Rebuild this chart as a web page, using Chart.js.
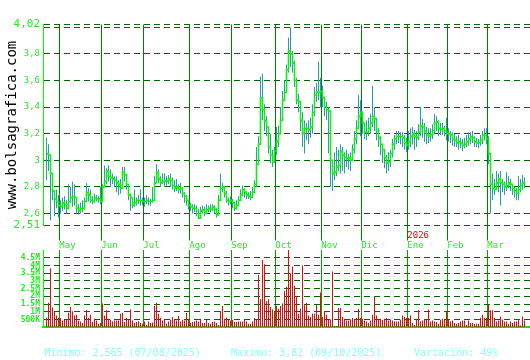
<!DOCTYPE html>
<html><head><meta charset="utf-8">
<script src="https://cdn.jsdelivr.net/npm/chart.js@4"></script>
<style>
html,body{margin:0;padding:0;background:#fff;width:530px;height:360px;overflow:hidden;}
#c1{position:absolute;left:0;top:0;}
#c2{position:absolute;left:0;top:240px;}
.ft{position:absolute;top:347px;font:10px "DejaVu Sans Mono",monospace;line-height:12px;color:#88ffff;white-space:pre;}
</style></head><body>
<canvas id="c1" width="530" height="250"></canvas>
<canvas id="c2" width="530" height="95"></canvas>
<div id="f0" class="ft" style="left:44px"></div>
<div id="f1" class="ft" style="left:231px"></div>
<div id="f2" class="ft" style="left:414px"></div>
<script>
// ---- data ----
const closes = [3.05,3.04,2.90,2.77,2.71,2.69,2.66,2.65,2.68,2.67,2.64,2.69,2.72,2.73,2.72,2.64,2.62,2.64,2.64,2.69,
2.76,2.74,2.70,2.69,2.72,2.71,2.71,2.69,2.80,2.84,2.92,2.88,2.87,2.86,2.85,2.83,2.82,2.79,2.91,2.89,
2.82,2.74,2.72,2.66,2.68,2.70,2.70,2.70,2.69,2.69,2.70,2.69,2.69,2.70,2.83,2.91,2.86,2.83,2.84,2.85,
2.84,2.86,2.85,2.81,2.79,2.80,2.78,2.79,2.75,2.73,2.70,2.66,2.65,2.64,2.64,2.60,2.565,2.62,2.63,2.60,
2.63,2.64,2.63,2.65,2.63,2.59,2.70,2.79,2.80,2.75,2.70,2.69,2.70,2.68,2.64,2.66,2.70,2.74,2.78,2.76,
2.74,2.73,2.72,2.76,2.82,2.97,3.12,3.47,3.38,3.30,3.25,3.10,3.04,2.99,3.07,3.14,3.20,3.30,3.45,3.51,
3.68,3.82,3.80,3.73,3.60,3.45,3.44,3.30,3.20,3.24,3.24,3.23,3.25,3.36,3.49,3.51,3.51,3.52,3.47,3.40,
3.38,3.37,3.00,2.90,2.91,2.95,2.96,3.07,3.04,3.02,3.01,3.02,3.00,3.08,3.16,3.24,3.33,3.36,3.28,3.21,
3.21,3.24,3.28,3.33,3.31,3.22,3.17,3.12,3.08,3.02,2.98,2.99,3.05,3.12,3.16,3.18,3.18,3.18,3.17,3.13,
3.11,3.14,3.18,3.20,3.18,3.17,3.21,3.26,3.25,3.22,3.19,3.18,3.19,3.22,3.28,3.29,3.24,3.23,3.24,3.22,
3.20,3.20,3.19,3.16,3.15,3.13,3.14,3.13,3.11,3.12,3.14,3.16,3.18,3.17,3.14,3.13,3.13,3.15,3.19,3.19,
3.16,3.05,2.82,2.79,2.78,2.83,2.86,2.83,2.82,2.80,2.81,2.83,2.82,2.79,2.77,2.75,2.78,2.81,2.83,2.82];
const highs = [3.17,3.12,3.00,2.88,2.76,2.78,2.74,2.70,2.72,2.73,2.70,2.82,2.80,2.84,2.82,2.72,2.67,2.68,2.70,2.72,
2.83,2.79,2.78,2.73,2.75,2.74,2.73,2.80,2.82,2.96,2.94,2.96,2.93,2.90,2.88,2.88,2.85,2.86,2.95,2.95,
2.88,2.81,2.75,2.72,2.78,2.72,2.74,2.78,2.72,2.72,2.74,2.72,2.71,2.80,2.88,2.97,2.93,2.88,2.90,2.90,
2.88,2.89,2.90,2.87,2.85,2.86,2.82,2.83,2.80,2.76,2.74,2.70,2.68,2.67,2.67,2.66,2.63,2.65,2.66,2.65,
2.67,2.66,2.67,2.67,2.66,2.64,2.74,2.90,2.83,2.80,2.77,2.72,2.73,2.71,2.68,2.70,2.73,2.78,2.81,2.79,
2.77,2.76,2.77,2.80,2.85,3.10,3.18,3.63,3.65,3.42,3.33,3.24,3.20,3.08,3.10,3.25,3.26,3.40,3.52,3.60,
3.72,3.92,4.00,3.82,3.75,3.62,3.50,3.42,3.36,3.30,3.28,3.30,3.32,3.42,3.55,3.58,3.74,3.62,3.56,3.48,
3.44,3.40,3.15,3.00,3.06,3.10,3.08,3.12,3.10,3.06,3.08,3.05,3.06,3.12,3.22,3.30,3.49,3.45,3.36,3.28,
3.30,3.32,3.35,3.56,3.40,3.32,3.24,3.18,3.12,3.08,3.04,3.06,3.08,3.16,3.19,3.22,3.22,3.21,3.21,3.19,
3.17,3.22,3.24,3.25,3.23,3.22,3.27,3.40,3.31,3.28,3.25,3.24,3.24,3.27,3.35,3.33,3.30,3.28,3.28,3.26,
3.32,3.24,3.22,3.21,3.20,3.18,3.19,3.17,3.16,3.17,3.19,3.21,3.21,3.22,3.18,3.17,3.16,3.19,3.22,3.24,
3.24,3.18,2.96,2.90,2.86,2.92,2.90,2.92,2.86,2.84,2.91,2.88,2.86,2.82,2.80,2.79,2.88,2.86,2.89,2.87];
const lows = [2.85,2.92,2.55,2.70,2.58,2.64,2.57,2.60,2.62,2.63,2.60,2.63,2.68,2.65,2.66,2.60,2.59,2.60,2.61,2.63,
2.70,2.69,2.68,2.67,2.68,2.69,2.68,2.67,2.72,2.80,2.82,2.84,2.80,2.82,2.80,2.76,2.74,2.75,2.85,2.84,
2.78,2.70,2.62,2.64,2.65,2.66,2.67,2.66,2.66,2.65,2.67,2.66,2.66,2.68,2.76,2.86,2.83,2.80,2.82,2.80,
2.81,2.82,2.80,2.78,2.76,2.77,2.75,2.75,2.72,2.68,2.66,2.63,2.62,2.60,2.61,2.58,2.56,2.57,2.60,2.58,
2.60,2.61,2.61,2.62,2.60,2.57,2.60,2.72,2.76,2.72,2.68,2.66,2.67,2.64,2.62,2.63,2.67,2.70,2.73,2.72,
2.71,2.71,2.70,2.72,2.78,2.80,3.05,3.20,3.30,3.22,3.18,3.05,2.98,2.95,2.98,3.04,3.10,3.20,3.38,3.45,
3.55,3.66,3.70,3.66,3.55,3.42,3.36,3.22,3.10,3.05,3.15,3.12,3.17,3.20,3.33,3.44,3.45,3.40,3.40,3.33,
3.30,3.05,2.80,2.77,2.85,2.88,2.92,2.90,2.92,2.90,2.95,2.93,2.92,3.00,3.05,3.12,3.25,3.18,3.20,3.16,
3.15,3.18,3.20,3.25,3.22,3.15,3.10,3.04,2.98,2.94,2.90,2.92,2.95,3.02,3.08,3.12,3.13,3.12,3.10,3.08,
3.06,3.08,3.10,3.12,3.08,3.10,3.15,3.18,3.17,3.14,3.12,3.13,3.14,3.16,3.20,3.22,3.18,3.19,3.19,3.18,
3.15,3.14,3.13,3.11,3.10,3.10,3.08,3.09,3.07,3.09,3.10,3.11,3.12,3.13,3.10,3.10,3.09,3.11,3.12,3.15,
3.12,2.97,2.60,2.70,2.74,2.78,2.76,2.66,2.76,2.74,2.77,2.79,2.77,2.74,2.72,2.70,2.70,2.76,2.78,2.79];
// volume in millions
const volumes = [0.61,1.59,3.82,1.27,1.03,0.76,0.61,0.60,0.44,0.48,0.48,0.94,1.31,1.03,0.76,0.81,0.44,0.37,0.28,0.76,
1.09,0.61,0.81,0.33,0.55,0.44,0.22,0.28,1.53,0.76,1.09,0.55,0.48,0.37,0.44,0.44,0.44,0.87,0.94,0.33,
0.59,0.48,1.14,0.44,0.28,0.33,0.39,0.28,0.22,0.37,0.15,0.37,0.28,0.30,1.38,1.59,0.87,0.61,0.44,0.48,
0.22,0.37,0.48,0.66,0.48,0.44,0.72,0.37,0.48,0.44,0.92,0.48,0.28,0.33,0.37,0.44,0.37,0.55,0.28,0.28,
0.48,0.28,0.22,0.33,0.37,0.28,0.15,1.05,1.38,0.55,0.61,0.50,0.44,0.48,0.33,0.33,0.37,0.37,0.37,0.48,
0.37,0.22,0.22,0.37,0.59,0.48,3.38,1.81,4.35,4.08,1.68,1.81,1.31,1.14,1.00,1.38,1.20,1.38,1.53,2.34,
2.62,5.00,3.49,3.93,2.69,2.01,0.87,1.20,4.00,1.42,1.59,0.76,0.66,0.87,0.87,1.42,0.81,2.25,0.66,0.98,
0.81,0.50,0.50,3.60,0.07,0.07,1.24,1.24,0.66,0.55,0.44,0.44,0.50,0.59,0.48,0.59,1.20,0.59,0.55,0.44,
0.37,0.28,0.44,0.81,1.97,0.76,0.50,0.55,0.48,0.55,0.59,0.44,0.50,0.44,0.37,0.37,0.37,0.48,0.76,0.66,
0.59,0.60,0.76,0.28,0.15,0.55,1.09,0.37,0.44,0.50,0.48,1.14,0.37,0.44,0.37,0.33,0.22,0.48,0.55,0.48,
0.98,0.48,0.37,0.44,0.28,0.22,0.28,0.37,0.44,0.44,0.15,0.44,0.28,0.28,0.22,0.22,0.22,0.61,0.81,0.61,
0.61,1.48,1.09,1.09,0.61,0.37,0.44,0.70,0.50,0.37,0.37,0.22,0.37,0.28,0.37,0.37,0.50,0.11,0.70,0.44];
const monthLabels = ['May','Jun','Jul','Ago','Sep','Oct','Nov','Dic','Ene','Feb','Mar'];
const monthFirstDay = [7,28,49,72,93,115,138,158,181,201,221];
const yearLabel = '2026';
const yearMonthIndex = 8;
const priceTickValues = [2.51,2.6,2.8,3,3.2,3.4,3.6,3.8,4.0,4.02];
const priceTickLabels = ['2,51','2,6','2,8','3','3,2','3,4','3,6','3,8','','4,02'];
const volTickValues = [0.5,1,1.5,2,2.5,3,3.5,4,4.5];
const volTickLabels = ['500K','1M','1.5M','2M','2.5M','3M','3.5M','4M','4.5M'];
const footerTexts = ['Minimo: 2,565 (07/08/2025)','Maximo: 3,82 (09/10/2025)','Variación: 49%'];
const siteName = 'www.bolsagrafica.com';

// ---- drawing ----
const MONO = '"DejaVu Sans Mono", monospace';
const monthTickPos = monthFirstDay.map(d => d - 0.6);
const XMIN = -1.75, XMAX = 241.75;

footerTexts.forEach((t, i) => { document.getElementById('f' + i).textContent = t; });

const yearPlugin = {
  id: 'yearLabel',
  afterDraw(chart) {
    const xs = chart.scales.x;
    const ctx = chart.ctx;
    const px = xs.getPixelForValue(monthTickPos[yearMonthIndex]);
    ctx.save();
    ctx.font = '9px ' + MONO;
    ctx.fillStyle = '#ff0000';
    ctx.textAlign = 'left';
    ctx.textBaseline = 'middle';
    ctx.fillText(yearLabel, px, 236);
    ctx.restore();
  }
};

new Chart(document.getElementById('c1'), {
  data: {
    datasets: [
      { type: 'line', data: closes.map((v, i) => ({x: i, y: v})), borderColor: '#11ee11', borderWidth: 1.6,
        pointRadius: 0, stepped: true, tension: 0, fill: false, order: 0 },
      { type: 'bar', data: lows.map((v, i) => ({x: i, y: [v, highs[i]]})), backgroundColor: '#20a0b0',
        barThickness: 1, inflateAmount: 0, borderWidth: 0, order: 1 }
    ]
  },
  plugins: [yearPlugin],
  options: {
    animation: false, responsive: false, events: [],
    layout: {padding: {top: 24.5, left: 0, right: 0, bottom: 0}},
    plugins: {legend: {display: false}, tooltip: {enabled: false}},
    scales: {
      x: {
        type: 'linear', min: XMIN, max: XMAX, offset: false,
        afterBuildTicks: s => { s.ticks = monthTickPos.map(v => ({value: v})); },
        afterFit: s => { s.height = 24.5; },
        ticks: {callback: (v, i) => monthLabels[i], align: 'start', color: '#22ee22',
          font: {family: MONO, size: 9}, padding: 0, maxRotation: 0, autoSkip: false},
        grid: {color: '#008000', lineWidth: 1, tickLength: 15, drawTicks: true, offset: false},
        border: {display: false}
      },
      y: {
        min: 2.51, max: 4.02,
        afterBuildTicks: s => { s.ticks = priceTickValues.map(v => ({value: v})); },
        afterFit: s => { s.width = 43; },
        ticks: {callback: (v, i) => priceTickLabels[i], color: '#22ee22', autoSkip: false, padding: 3,
          font: ctx => ({family: MONO, size: (ctx.tick && (ctx.tick.value === 2.51 || ctx.tick.value === 4.02)) ? 11 : 9})},
        grid: {color: '#006400', drawTicks: false},
        border: {display: true, color: '#00ff00', width: 1, dash: [6, 4]},
        title: {display: true, text: siteName, color: '#000000', font: {family: MONO, size: 14}, padding: {top: 4, bottom: 0}}
      }
    }
  }
});

new Chart(document.getElementById('c2'), {
  data: {
    datasets: [
      { type: 'bar', data: volumes.map((v, i) => ({x: i, y: v})), backgroundColor: '#ff0000',
        barThickness: 1, inflateAmount: 0, borderWidth: 0 }
    ]
  },
  options: {
    animation: false, responsive: false, events: [],
    layout: {padding: {top: 10, left: 0, right: 0, bottom: 0}},
    plugins: {legend: {display: false}, tooltip: {enabled: false}},
    scales: {
      x: {
        type: 'linear', min: XMIN, max: XMAX, offset: false,
        afterBuildTicks: s => { s.ticks = monthTickPos.map(v => ({value: v})); },
        afterFit: s => { s.height = 7.5; },
        ticks: {display: false},
        grid: {color: '#00a000', drawTicks: false, offset: false},
        border: {display: true, color: '#00ee00', width: 2}
      },
      y: {
        min: 0, max: 5,
        afterBuildTicks: s => { s.ticks = volTickValues.map(v => ({value: v})); },
        afterFit: s => { s.width = 43; },
        ticks: {callback: (v, i) => volTickLabels[i], color: '#22ee22', autoSkip: false, padding: 3,
          font: {family: MONO, size: 8, weight: 'bold'}},
        grid: {color: '#006400', drawTicks: false},
        border: {display: true, color: '#00ff00', width: 1, dash: [6, 4]}
      }
    }
  }
});
</script>
</body></html>
